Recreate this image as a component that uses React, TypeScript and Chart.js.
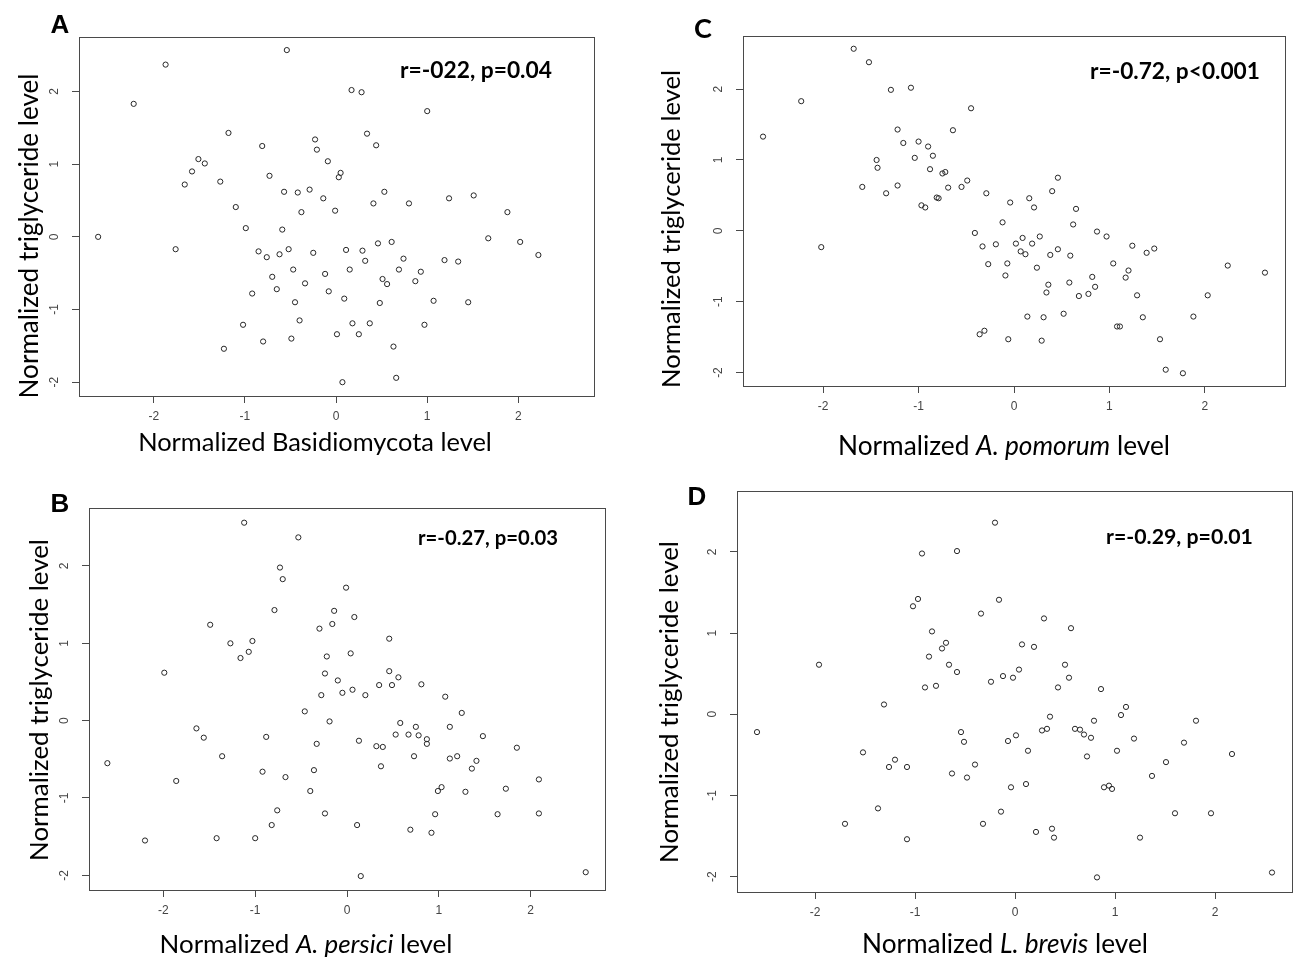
import React, { useEffect, useRef } from "react";
import { Chart, registerables } from "chart.js";

Chart.register(...registerables);

// ---------- DATA ----------
// Panel A: Normalized Basidiomycota level vs triglyceride
const A_X = [
  -0.54, -1.87, -2.22, -1.18, -0.81, -0.23, -0.21, -0.09, -1.51, -1.44, -1.58, -1.66, -1.27, -0.73,
  -0.57, -0.42, -0.29, -0.14, -0.38, -1.1, -0.99, -0.59, -2.61, -1.76, -0.85, -0.76, -0.62, -0.52,
  -0.25, -0.47, -0.7, -0.65, -0.34, -0.12, -0.08, -0.92, -0.45, -0.4, -1.02, -0.8, -0.49, -1.23,
  0.17, 0.28, 1.0, 0.34, 0.44, 0.05, 0.03, -0.01, 0.53, 0.41, 0.8, 1.24, 1.51, 1.88, 1.67, 2.02,
  2.22, 0.11, 0.29, 0.32, 0.46, 0.61, 0.74, 0.69, 0.15, 0.09, 0.51, 0.56, 0.87, 0.93, 1.19, 1.34,
  0.48, 1.07, 1.45, 0.18, 0.37, 0.97, 0.01, 0.25, 0.63, 0.07, 0.66,
];
const A_Y = [
  2.57, 2.37, 1.83, 1.43, 1.25, 1.34, 1.2, 1.04, 1.07, 1.01, 0.9, 0.72, 0.76, 0.84,
  0.62, 0.61, 0.65, 0.53, 0.34, 0.41, 0.12, 0.1, 0.0, -0.17, -0.2, -0.28, -0.24, -0.17,
  -0.22, -0.45, -0.55, -0.72, -0.64, -0.51, -0.75, -0.78, -0.9, -1.15, -1.21, -1.44, -1.4, -1.54,
  2.02, 1.99, 1.73, 1.42, 1.26, 0.88, 0.82, 0.36, 0.62, 0.46, 0.46, 0.53, 0.57, 0.34, -0.02, -0.07,
  -0.25, -0.18, -0.19, -0.33, -0.09, -0.07, -0.3, -0.45, -0.45, -0.85, -0.58, -0.65, -0.61, -0.48, -0.32, -0.34,
  -0.91, -0.88, -0.9, -1.19, -1.19, -1.21, -1.34, -1.34, -1.51, -2.0, -1.94,
];

// Panel C: Normalized A. pomorum level vs triglyceride
const C_X = [
  -1.68, -1.52, -1.29, -1.08, -2.23, -0.45, -2.63, -1.22, -0.64, -1.16, -1.0, -0.9, -0.85, -1.04,
  -1.44, -1.43, -0.88, -0.72, -0.75, -0.49, -0.55, -0.69, -1.22, -1.59, -1.34, -0.29, -0.81, -0.79,
  -0.97, -0.93, -0.04, -0.12, -0.41, -0.33, -0.19, -0.27, -0.07, -0.09, -2.02, -0.36, -0.31, -0.06,
  0.46, 0.4, 0.16, 0.21, 0.65, 0.62, 0.87, 0.97, 0.02, 0.09, 0.19, 0.27, 0.07, 0.12, 0.38, 0.46,
  0.59, 1.24, 1.39, 1.47, 0.24, 1.04, 1.2, 1.17, 2.24, 2.63, 0.36, 0.34, 0.58, 0.68, 0.78, 0.82,
  0.85, 1.29, 2.03, 0.14, 0.31, 0.52, 1.35, 1.88, 1.08, 1.11, 0.29, 1.53, 1.59, 1.77,
];
const C_Y = [
  2.57, 2.38, 1.99, 2.02, 1.83, 1.73, 1.33, 1.43, 1.42, 1.24, 1.26, 1.19, 1.06, 1.03,
  1.0, 0.89, 0.87, 0.83, 0.81, 0.71, 0.62, 0.61, 0.64, 0.62, 0.53, 0.53, 0.47, 0.46,
  0.36, 0.33, 0.4, 0.12, -0.03, -0.22, -0.19, -0.47, -0.46, -0.63, -0.23, -1.46, -1.41, -1.53,
  0.75, 0.56, 0.46, 0.33, 0.31, 0.09, -0.01, -0.08, -0.18, -0.1, -0.18, -0.08, -0.29, -0.33, -0.34, -0.26,
  -0.35, -0.21, -0.31, -0.25, -0.52, -0.46, -0.56, -0.66, -0.49, -0.59, -0.76, -0.87, -0.73, -0.92, -0.89, -0.65,
  -0.79, -0.91, -0.91, -1.21, -1.22, -1.17, -1.22, -1.21, -1.35, -1.35, -1.55, -1.53, -1.96, -2.01,
];

// Panel B: Normalized A. persici level vs triglyceride
const B_X = [
  -1.12, -0.53, -0.73, -0.7, -0.01, -0.79, -0.14, -0.16, -0.3, -1.49, -1.27, -1.03, -1.07, -1.16,
  -0.22, -0.24, -0.1, -0.05, -0.28, -1.99, -0.46, -0.19, -1.64, -1.56, -0.88, -0.33, -2.61, -1.36,
  -0.36, -0.92, -0.67, -1.86, -0.4, -0.76, -0.24, -0.82, -2.2, -1.42, -1.0,
  0.08, 0.46, 0.04, 0.06, 0.2, 0.46, 0.56, 0.35, 0.49, 0.81, 1.07, 1.25, 0.58, 1.12, 1.48, 0.53,
  0.67, 0.75, 0.78, 0.87, 0.87, 0.13, 0.32, 0.39, 0.73, 1.12, 1.2, 1.85, 0.37, 1.41, 1.36, 2.09,
  1.03, 0.99, 1.29, 1.73, 0.96, 1.64, 2.09, 0.11, 0.69, 0.92, 0.15, 2.6,
];
const B_Y = [
  2.56, 2.37, 1.98, 1.83, 1.72, 1.43, 1.42, 1.25, 1.19, 1.24, 1.0, 1.03, 0.89, 0.81,
  0.83, 0.61, 0.52, 0.36, 0.33, 0.62, 0.12, -0.01, -0.1, -0.22, -0.21, -0.3, -0.55, -0.46,
  -0.64, -0.66, -0.73, -0.78, -0.91, -1.16, -1.2, -1.35, -1.55, -1.52, -1.52,
  1.34, 1.06, 0.87, 0.4, 0.33, 0.64, 0.56, 0.46, 0.46, 0.47, 0.31, 0.1, -0.03, -0.08, -0.2, -0.18,
  -0.18, -0.08, -0.19, -0.24, -0.3, -0.26, -0.33, -0.34, -0.46, -0.49, -0.46, -0.35, -0.59, -0.52, -0.62, -0.76,
  -0.86, -0.91, -0.92, -0.88, -1.21, -1.21, -1.2, -1.35, -1.41, -1.45, -2.01, -1.96,
];

// Panel D: Normalized L. brevis level vs triglyceride
const D_X = [
  -0.2, -0.93, -0.58, -0.97, -1.02, -0.16, -0.34, -0.83, -0.69, -0.73, -0.86, -0.66, -0.58, -1.96,
  -0.9, -0.79, -0.24, -0.12, -1.31, -2.58, -0.54, -0.51, -1.52, -1.2, -1.26, -1.08, -0.4, -0.63,
  -0.48, -1.37, -1.7, -0.14, -0.32, -1.08,
  0.29, 0.56, 0.07, 0.19, 0.5, -0.02, 0.04, 0.54, 0.43, 0.86, 1.11, 1.06, 0.35, 0.27, 0.32, 0.79,
  1.81, -0.07, 0.01, 0.13, 0.6, 0.65, 0.69, 0.76, 1.19, 1.69, 0.72, 1.02, 1.51, 2.17, 1.37, -0.04,
  0.11, 0.89, 0.94, 0.97, 1.6, 1.96, 0.21, 0.37, 0.39, 1.25, 0.82, 2.57,
];
const D_Y = [
  2.36, 1.98, 2.01, 1.42, 1.33, 1.41, 1.24, 1.02, 0.88, 0.81, 0.71, 0.61, 0.52, 0.61,
  0.33, 0.35, 0.4, 0.47, 0.12, -0.22, -0.22, -0.34, -0.47, -0.56, -0.65, -0.65, -0.62, -0.73,
  -0.78, -1.16, -1.35, -1.2, -1.35, -1.54,
  1.18, 1.06, 0.86, 0.83, 0.61, 0.45, 0.55, 0.45, 0.33, 0.31, 0.09, -0.01, -0.03, -0.2, -0.18, -0.08,
  -0.08, -0.33, -0.26, -0.45, -0.18, -0.19, -0.25, -0.29, -0.3, -0.35, -0.52, -0.45, -0.59, -0.49, -0.76, -0.9,
  -0.86, -0.9, -0.88, -0.92, -1.22, -1.22, -1.45, -1.41, -1.52, -1.52, -2.01, -1.95,
];

const X_TICKS = [-2, -1, 0, 1, 2];
const Y_TICKS = [-2, -1, 0, 1, 2];

const Y_TITLE = "Normalized triglyceride level";
type Seg = { t: string; italic?: boolean };
const A_XTITLE: Seg[] = [{ t: "Normalized Basidiomycota level" }];
const C_XTITLE: Seg[] = [{ t: "Normalized " }, { t: "A. pomorum", italic: true }, { t: " level" }];
const B_XTITLE: Seg[] = [{ t: "Normalized " }, { t: "A. persici", italic: true }, { t: " level" }];
const D_XTITLE: Seg[] = [{ t: "Normalized " }, { t: "L. brevis", italic: true }, { t: " level" }];
const A_STAT = "r=-022, p=0.04";
const C_STAT = "r=-0.72, p<0.001";
const B_STAT = "r=-0.27, p=0.03";
const D_STAT = "r=-0.29, p=0.01";

// ---------- LAYOUT (page pixel coordinates) ----------
type PanelCfg = {
  id: string;
  xs: number[];
  ys: number[];
  xRange: [number, number];
  yRange: [number, number];
  region: [number, number, number, number]; // canvas x, y, w, h
  box: [number, number, number, number]; // L, T, R, B
  letter: string;
  letterPos: [number, number];
  letterFont: string;
  stat: string;
  statRight: number;
  statY: number;
  statW: number;
  xTitle: Seg[];
  xTitlePos: [number, number];
  xTitleW: number;
  yTitlePos: [number, number];
  yTitleW: number;
};

const TITLE_FAMILY = "Lato, 'Open Sans', sans-serif";
const TICK_FAMILY = "'Liberation Sans', Arial, sans-serif";

const PANELS: PanelCfg[] = [
  {
    id: "A", xs: A_X, ys: A_Y, xRange: [-2.82, 2.83], yRange: [-2.19, 2.75],
    region: [0, 0, 649, 470], box: [79, 37, 594, 396],
    letter: "A", letterPos: [60, 26], letterFont: `bold 26px ${TICK_FAMILY}`,
    stat: A_STAT, statRight: 552, statY: 71, statW: 152,
    xTitle: A_XTITLE, xTitlePos: [315, 443], xTitleW: 354,
    yTitlePos: [30, 236], yTitleW: 325,
  },
  {
    id: "C", xs: C_X, ys: C_Y, xRange: [-2.84, 2.84], yRange: [-2.19, 2.75],
    region: [649, 0, 649, 470], box: [743, 36, 1285, 386],
    letter: "C", letterPos: [703, 29], letterFont: `bold 27px ${TITLE_FAMILY}`,
    stat: C_STAT, statRight: 1260, statY: 72, statW: 170,
    xTitle: C_XTITLE, xTitlePos: [1004, 447], xTitleW: 332,
    yTitlePos: [672, 229], yTitleW: 318,
  },
  {
    id: "B", xs: B_X, ys: B_Y, xRange: [-2.81, 2.81], yRange: [-2.19, 2.75],
    region: [0, 470, 649, 491], box: [89, 508, 605, 890],
    letter: "B", letterPos: [60, 505], letterFont: `bold 26px ${TICK_FAMILY}`,
    stat: B_STAT, statRight: 558, statY: 538, statW: 140,
    xTitle: B_XTITLE, xTitlePos: [306, 945], xTitleW: 293,
    yTitlePos: [40, 700], yTitleW: 322,
  },
  {
    id: "D", xs: D_X, ys: D_Y, xRange: [-2.78, 2.77], yRange: [-2.19, 2.75],
    region: [649, 470, 649, 491], box: [737, 491, 1292, 892],
    letter: "D", letterPos: [697, 498], letterFont: `bold 26px ${TICK_FAMILY}`,
    stat: D_STAT, statRight: 1253, statY: 537, statW: 147,
    xTitle: D_XTITLE, xTitlePos: [1005, 945], xTitleW: 286,
    yTitlePos: [670, 702], yTitleW: 322,
  },
];

const AXIS_COLOR = "#4a4a4a";

function drawRich(
  ctx: CanvasRenderingContext2D,
  segs: Seg[],
  cx: number,
  cy: number,
  targetW: number,
  family: string,
  weight: string,
  rotate: boolean
) {
  const base = 20;
  const fontFor = (s: Seg, size: number) => `${s.italic ? "italic " : ""}${weight} ${size}px ${family}`;
  let w = 0;
  for (const s of segs) {
    ctx.font = fontFor(s, base);
    w += ctx.measureText(s.t).width;
  }
  const size = (base * targetW) / w;
  const widths: number[] = [];
  let total = 0;
  for (const s of segs) {
    ctx.font = fontFor(s, size);
    const m = ctx.measureText(s.t).width;
    widths.push(m);
    total += m;
  }
  ctx.save();
  ctx.translate(cx, cy);
  if (rotate) ctx.rotate(-Math.PI / 2);
  ctx.textAlign = "left";
  ctx.textBaseline = "middle";
  ctx.fillStyle = "#000";
  let x = -total / 2;
  segs.forEach((s, i) => {
    ctx.font = fontFor(s, size);
    ctx.fillText(s.t, x, 0);
    x += widths[i];
  });
  ctx.restore();
}

function Panel({ cfg }: { cfg: PanelCfg }) {
  const ref = useRef<HTMLCanvasElement | null>(null);

  useEffect(() => {
    if (!ref.current) return;
    const [rx, ry, rw, rh] = cfg.region;
    const [L, T, R, B] = cfg.box;
    const l = L - rx;
    const t = T - ry;
    const r = R - rx;
    const b = B - ry;

    const decor = {
      id: "decor" + cfg.id,
      afterDraw(chart: any) {
        const ctx: CanvasRenderingContext2D = chart.ctx;
        const ca = chart.chartArea;
        // full box
        ctx.save();
        ctx.strokeStyle = AXIS_COLOR;
        ctx.lineWidth = 1;
        ctx.strokeRect(Math.round(ca.left) + 0.5, Math.round(ca.top) + 0.5, Math.round(ca.right - ca.left), Math.round(ca.bottom - ca.top));
        ctx.restore();

        // rotated y tick labels
        const ys = chart.scales.y;
        ctx.save();
        ctx.fillStyle = "#444";
        ctx.font = `12px ${TICK_FAMILY}`;
        ctx.textAlign = "center";
        ctx.textBaseline = "middle";
        for (const tk of ys.ticks) {
          const py = ys.getPixelForValue(tk.value);
          ctx.save();
          ctx.translate(ca.left - 24, py);
          ctx.rotate(-Math.PI / 2);
          ctx.fillText(String(tk.value), 0, 0);
          ctx.restore();
        }
        ctx.restore();

        // panel letter
        ctx.save();
        ctx.fillStyle = "#000";
        ctx.font = cfg.letterFont;
        ctx.textAlign = "center";
        ctx.textBaseline = "middle";
        ctx.fillText(cfg.letter, cfg.letterPos[0] - rx, cfg.letterPos[1] - ry);
        ctx.restore();

        // statistic annotation
        drawRich(ctx, [{ t: cfg.stat }], cfg.statRight - cfg.statW / 2 - rx, cfg.statY - ry, cfg.statW, TITLE_FAMILY, "bold", false);
        // axis titles
        drawRich(ctx, cfg.xTitle, cfg.xTitlePos[0] - rx, cfg.xTitlePos[1] - ry, cfg.xTitleW, TITLE_FAMILY, "normal", false);
        drawRich(ctx, [{ t: Y_TITLE }], cfg.yTitlePos[0] - rx, cfg.yTitlePos[1] - ry, cfg.yTitleW, TITLE_FAMILY, "normal", true);
      },
    };

    const chart = new Chart(ref.current, {
      type: "scatter",
      data: {
        datasets: [
          {
            data: cfg.xs.map((x, i) => ({ x, y: cfg.ys[i] })),
            pointStyle: "circle",
            pointRadius: 2.6,
            pointBorderWidth: 1,
            borderColor: "#262626",
            backgroundColor: "rgba(0,0,0,0)",
            pointHoverRadius: 2.6,
          },
        ],
      },
      options: {
        responsive: false,
        animation: false,
        events: [],
        layout: { padding: { left: 0, top: t, right: rw - r, bottom: 0 } },
        plugins: { legend: { display: false }, tooltip: { enabled: false } },
        scales: {
          x: {
            type: "linear",
            min: cfg.xRange[0],
            max: cfg.xRange[1],
            afterBuildTicks: (s: any) => {
              s.ticks = X_TICKS.map((v) => ({ value: v }));
            },
            afterFit: (s: any) => {
              s.height = rh - b;
            },
            grid: { drawOnChartArea: false, drawTicks: true, tickLength: 7, color: AXIS_COLOR, lineWidth: 1 },
            border: { display: true, color: AXIS_COLOR, width: 1 },
            ticks: { color: "#444", font: { family: TICK_FAMILY, size: 12 }, padding: 6, maxRotation: 0, autoSkip: false },
          },
          y: {
            type: "linear",
            min: cfg.yRange[0],
            max: cfg.yRange[1],
            afterBuildTicks: (s: any) => {
              s.ticks = Y_TICKS.map((v) => ({ value: v }));
            },
            afterFit: (s: any) => {
              s.width = l;
            },
            grid: { drawOnChartArea: false, drawTicks: true, tickLength: 7, color: AXIS_COLOR, lineWidth: 1 },
            border: { display: true, color: AXIS_COLOR, width: 1 },
            ticks: { display: false },
          },
        },
      },
      plugins: [decor],
    });
    return () => chart.destroy();
  }, [cfg]);

  const [rx, ry, rw, rh] = cfg.region;
  return (
    <canvas
      ref={ref}
      width={rw}
      height={rh}
      style={{ position: "absolute", left: rx, top: ry, width: rw, height: rh, display: "block" }}
    />
  );
}

export default function App() {
  return (
    <div style={{ position: "absolute", left: 0, top: 0, width: 1298, height: 961, background: "#fff", overflow: "hidden" }}>
      {PANELS.map((p) => (
        <Panel key={p.id} cfg={p} />
      ))}
    </div>
  );
}
